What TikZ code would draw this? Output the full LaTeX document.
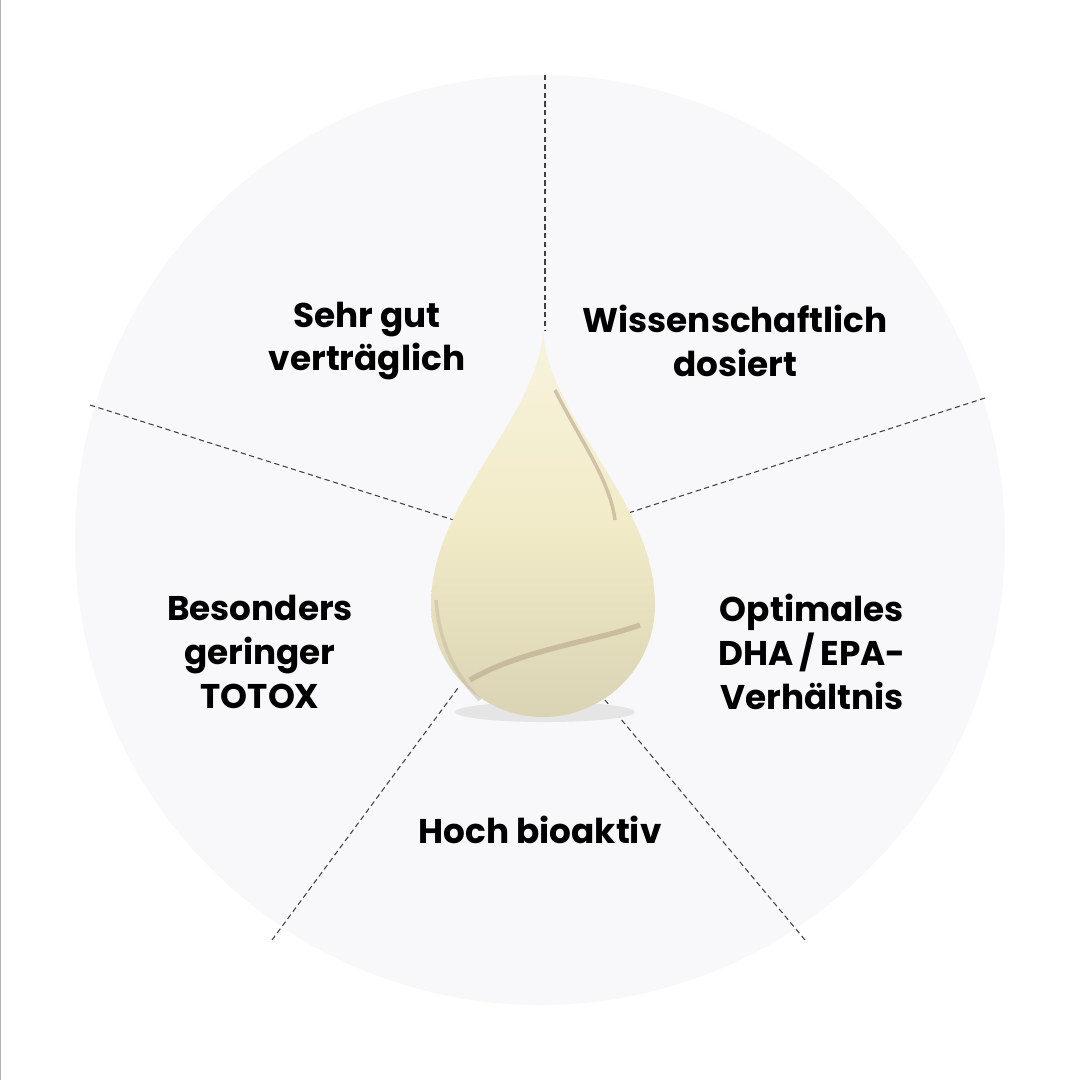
\documentclass[tikz,border=0pt]{standalone}
\usepackage{fontspec}
\setmainfont{Poppins}
\tikzset{lbl/.style={font=\bfseries\fontsize{19.5}{25}\selectfont,align=center,text=black},
 dl/.style={dashed,dash pattern=on 3pt off 2pt,line width=0.6pt,draw=black!75}}
\definecolor{drop}{HTML}{F2EBC8}
\definecolor{dropd}{HTML}{B9A68A}
\definecolor{bgc}{HTML}{F8F7F9}
\begin{document}
\begin{tikzpicture}[x=0.02cm,y=-0.02cm]
\useasboundingbox (0,0) rectangle (1080,1080);
\fill[white] (0,0) rectangle (1080,1080);
\draw[black!30,line width=0.5pt] (0.5,0) -- (0.5,1080);
\fill[bgc] (540,540) circle (465);
\coordinate (t1) at (545,75); \coordinate (b1) at (545,330);
\coordinate (t2) at (90,405); \coordinate (b2) at (460,522);
\coordinate (t3) at (985,398); \coordinate (b3) at (622,515);
\coordinate (t4) at (272,940); \coordinate (b4) at (458,688);
\coordinate (t5) at (805,940); \coordinate (b5) at (605,700);
\foreach \i in {1,...,5} \draw[dl] (t\i) -- (b\i);
\fill[black!10] (545,712) ellipse (90 and 10);
\shade[top color=drop!60!white,bottom color=drop!90!black,middle color=drop]
 (543,330) .. controls (548,420) and (655,500) .. (655,605)
 arc[start angle=0,end angle=180,radius=112]
 .. controls (431,500) and (538,420) .. (543,330) -- cycle;
\draw[dropd,line width=3pt,opacity=0.6] (470,680) .. controls (520,650) and (600,640) .. (640,625);
\draw[dropd,line width=2pt,opacity=0.6] (555,390) .. controls (580,440) and (610,480) .. (615,520);
\draw[dropd!80,line width=2pt,opacity=0.5] (436,600) .. controls (440,650) and (460,680) .. (480,700);
\node[lbl] (n1) at (367,341) {Sehr gut\\verträglich};
\node[lbl] (n2) at (735,341) {Wissenschaftlich\\dosiert};
\node[lbl] (n3) at (260,652) {Besonders\\geringer\\TOTOX};
\node[lbl] (n4) at (812,652) {Optimales\\DHA\,/\,EPA-\\Verhältnis};
\node[lbl] (n5) at (540,830) {Hoch bioaktiv};
\end{tikzpicture}
\end{document}
